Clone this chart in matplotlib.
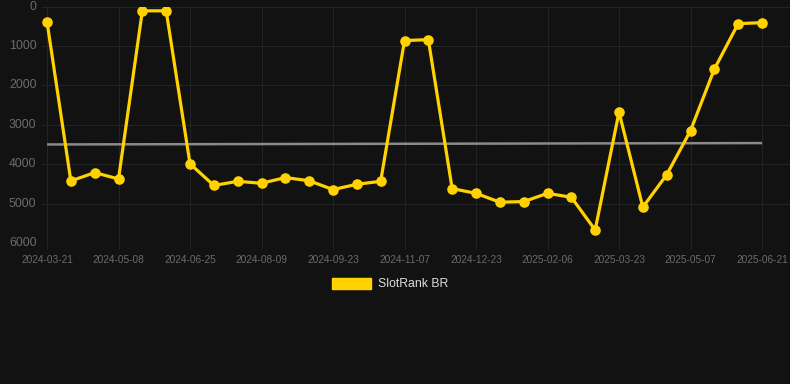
import matplotlib
matplotlib.use("Agg")
import matplotlib.pyplot as plt
import matplotlib.patches as mpatches

plt.rcParams["font.family"] = ["Liberation Sans", "DejaVu Sans"]

tick_labels = ["2024-03-21", "2024-05-08", "2024-06-25", "2024-08-09", "2024-09-23",
               "2024-11-07", "2024-12-23", "2025-02-06", "2025-03-23", "2025-05-07",
               "2025-06-21"]
rank_values = [385, 4425, 4215, 4375, 110, 110, 3990, 4540, 4435, 4485,
               4340, 4420, 4645, 4510, 4435, 865, 840, 4620, 4740, 4965,
               4950, 4740, 4840, 5670, 2680, 5090, 4270, 3150, 1590, 435, 410]
trend_values = [3500, 3465]
series_name = "SlotRank BR"

BG = "#121212"
GOLD = "#FFD200"
GRID = "#232323"
TXT = "#6b6b6b"

W, H = 790, 384
fig = plt.figure(figsize=(W / 100, H / 100), dpi=100, facecolor=BG)
ax = fig.add_axes([42 / W, 1 - 243 / H, (790 - 42) / W, (243 - 6.5) / H], facecolor=BG)

n = len(rank_values)
xs = list(range(n))
ax.plot([0, n - 1], trend_values, color="#8a8a8a", lw=1.8, zorder=2, solid_capstyle="butt")
ax.plot(xs, rank_values, color=GOLD, lw=2.3, marker="o", markersize=6.6,
        markerfacecolor=GOLD, markeredgecolor=GOLD, zorder=3)

ax.set_xlim(-0.21, (790 - 47) / ((762 - 47) / 30))
ax.set_ylim(6000, 0)
ax.set_yticks([0, 1000, 2000, 3000, 4000, 5000, 6000])
tick_pos = list(range(0, n, 3))
ax.set_xticks(tick_pos)
ax.set_xticklabels(tick_labels)

ax.grid(True, color=GRID, lw=0.8)
ax.set_axisbelow(True)
for s in ax.spines.values():
    s.set_visible(False)
ax.tick_params(axis="y", length=0, pad=4, labelsize=8.9, labelcolor=TXT)
ax.tick_params(axis="x", length=4, color=GRID, pad=4.5, labelsize=7.3, labelcolor=TXT)
for lbl in ax.get_yticklabels():
    lbl.set_verticalalignment("center")

handle = mpatches.Patch(facecolor=GOLD, edgecolor=GOLD, label=series_name)
leg = fig.legend(handles=[handle], loc="center", bbox_to_anchor=(390 / W, 1 - 284 / H),
                 frameon=False, fontsize=8.8, handlelength=3.2, handleheight=1.0,
                 handletextpad=0.6, labelcolor="#dddddd")

fig.savefig("out.png", dpi=100, facecolor=BG)
